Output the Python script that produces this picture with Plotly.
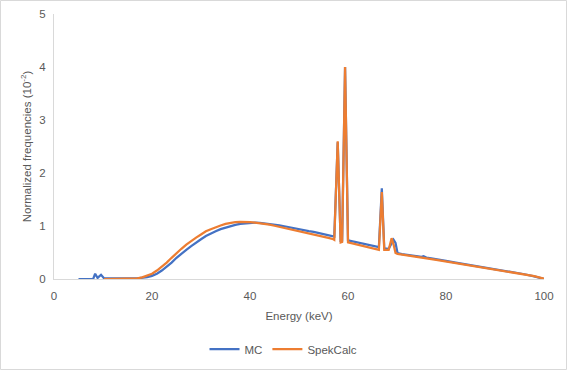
import plotly.graph_objects as go

energy = [5, 6, 7, 8, 8.4, 8.9, 9.6, 10.2, 11, 12, 13, 14, 15, 16, 17, 18, 19, 20,
          21, 22, 23, 24, 25, 26, 27, 28, 29, 30, 31, 32, 33, 34, 35, 36, 37, 38, 39, 40,
          41, 42, 43, 44, 45, 46, 47, 48, 49, 50, 51, 52, 53, 54, 55, 56, 57,
          57.2, 57.9, 58.5, 58.8, 59.4, 60.0, 61, 62, 63, 64, 65, 66, 66.3, 66.9, 67.4,
          68.3, 68.9, 69.3, 69.7, 70.1, 71, 72, 73, 73.5, 74, 75, 75.4, 76, 77, 78, 79, 80,
          82, 84, 86, 88, 90, 92, 94, 96, 98, 100]

mc = [0, 0, 0, 0.003, 0.10, 0.02, 0.08, 0.015, 0.01, 0.008, 0.008, 0.008, 0.008, 0.01, 0.013, 0.02, 0.035, 0.06,
      0.10, 0.16, 0.23, 0.31, 0.40, 0.48, 0.55, 0.62, 0.69, 0.75, 0.81, 0.86, 0.90, 0.94, 0.97, 1.00, 1.02, 1.04, 1.05, 1.06,
      1.065, 1.06, 1.05, 1.04, 1.025, 1.01, 0.995, 0.975, 0.96, 0.94, 0.925, 0.905, 0.89, 0.87, 0.85, 0.83, 0.81,
      0.80, 2.58, 0.70, 0.72, 4.0, 0.73, 0.71, 0.69, 0.67, 0.65, 0.63, 0.61, 0.60, 1.71, 0.58,
      0.57, 0.67, 0.74, 0.68, 0.49, 0.47, 0.455, 0.44, 0.445, 0.43, 0.42, 0.43, 0.405, 0.39, 0.37, 0.355, 0.34,
      0.31, 0.28, 0.25, 0.22, 0.19, 0.155, 0.125, 0.09, 0.05, 0.0]

spekcalc = [None, None, None, None, None, None, None, 0.0, 0.0, 0.0, 0.001, 0.002, 0.003, 0.006, 0.012, 0.03, 0.06, 0.10,
            0.16, 0.23, 0.31, 0.40, 0.49, 0.57, 0.65, 0.72, 0.78, 0.84, 0.90, 0.94, 0.98, 1.01, 1.04, 1.06, 1.075, 1.08, 1.08, 1.075,
            1.065, 1.055, 1.04, 1.025, 1.005, 0.985, 0.965, 0.945, 0.925, 0.905, 0.885, 0.865, 0.845, 0.82, 0.80, 0.775, 0.75,
            0.74, 2.60, 0.69, 0.70, 4.0, 0.69, 0.67, 0.65, 0.63, 0.61, 0.59, 0.56, 0.55, 1.64, 0.55,
            0.55, 0.77, 0.65, 0.49, 0.475, 0.46, 0.445, 0.43, 0.42, 0.415, 0.40, 0.395, 0.39, 0.375, 0.36, 0.345, 0.33,
            0.30, 0.27, 0.245, 0.215, 0.185, 0.155, 0.125, 0.09, 0.055, 0.005]

x_ticks = [0, 20, 40, 60, 80, 100]
y_ticks = [0, 1, 2, 3, 4, 5]

font_fam = "Liberation Sans, Arial, sans-serif"
gray = "#595959"
fs = 11.5

fig = go.Figure()
fig.add_trace(go.Scatter(x=energy, y=mc, mode="lines", name="MC",
                         line=dict(color="#4472C4", width=2.25), connectgaps=False))
fig.add_trace(go.Scatter(x=energy, y=spekcalc, mode="lines", name="SpekCalc",
                         line=dict(color="#ED7D31", width=2.25), connectgaps=False))

L, R, T, B = 54, 23, 14, 91
W, H = 567, 370
pw, ph = W - L - R, H - T - B

fig.update_layout(
    template="none",
    width=W, height=H,
    margin=dict(l=L, r=R, t=T, b=B, autoexpand=False),
    paper_bgcolor="white", plot_bgcolor="white",
    font=dict(family=font_fam, size=fs, color=gray),
    showlegend=True,
    legend=dict(orientation="h", x=0.5, xanchor="center", xref="container",
                y=(H - 349) / H, yanchor="middle", yref="container",
                font=dict(size=fs, color=gray), traceorder="normal",
                bgcolor="rgba(0,0,0,0)", borderwidth=0),
    xaxis=dict(range=[0, 100], tickvals=x_ticks, showgrid=False, zeroline=False,
               showline=True, linecolor="#D9D9D9", linewidth=1, ticks="",
               automargin=False, ticklabelstandoff=6,
               title=dict(text="Energy (keV)", font=dict(size=fs, color=gray), standoff=11),
               tickfont=dict(size=fs, color=gray)),
    yaxis=dict(range=[0, 5], tickvals=y_ticks, showgrid=False, zeroline=False,
               showline=True, linecolor="#D9D9D9", linewidth=1, ticks="",
               automargin=False, ticklabelstandoff=5,
               title=dict(text="Normalized frequencies (10<sup>-2</sup>)", font=dict(size=fs, color=gray), standoff=5),
               tickfont=dict(size=fs, color=gray)),
    shapes=[dict(type="rect", xref="paper", yref="paper",
                 x0=(0.5 - L) / pw, x1=(W - 0.5 - L) / pw,
                 y0=-(B - 0.5) / ph, y1=1 + (T - 0.5) / ph,
                 line=dict(color="#D9D9D9", width=1), fillcolor="rgba(0,0,0,0)", layer="below")],
)

fig.write_html("out.html", config={"displayModeBar": False},
               post_script="document.body.style.margin='0';document.body.style.overflow='hidden';")
